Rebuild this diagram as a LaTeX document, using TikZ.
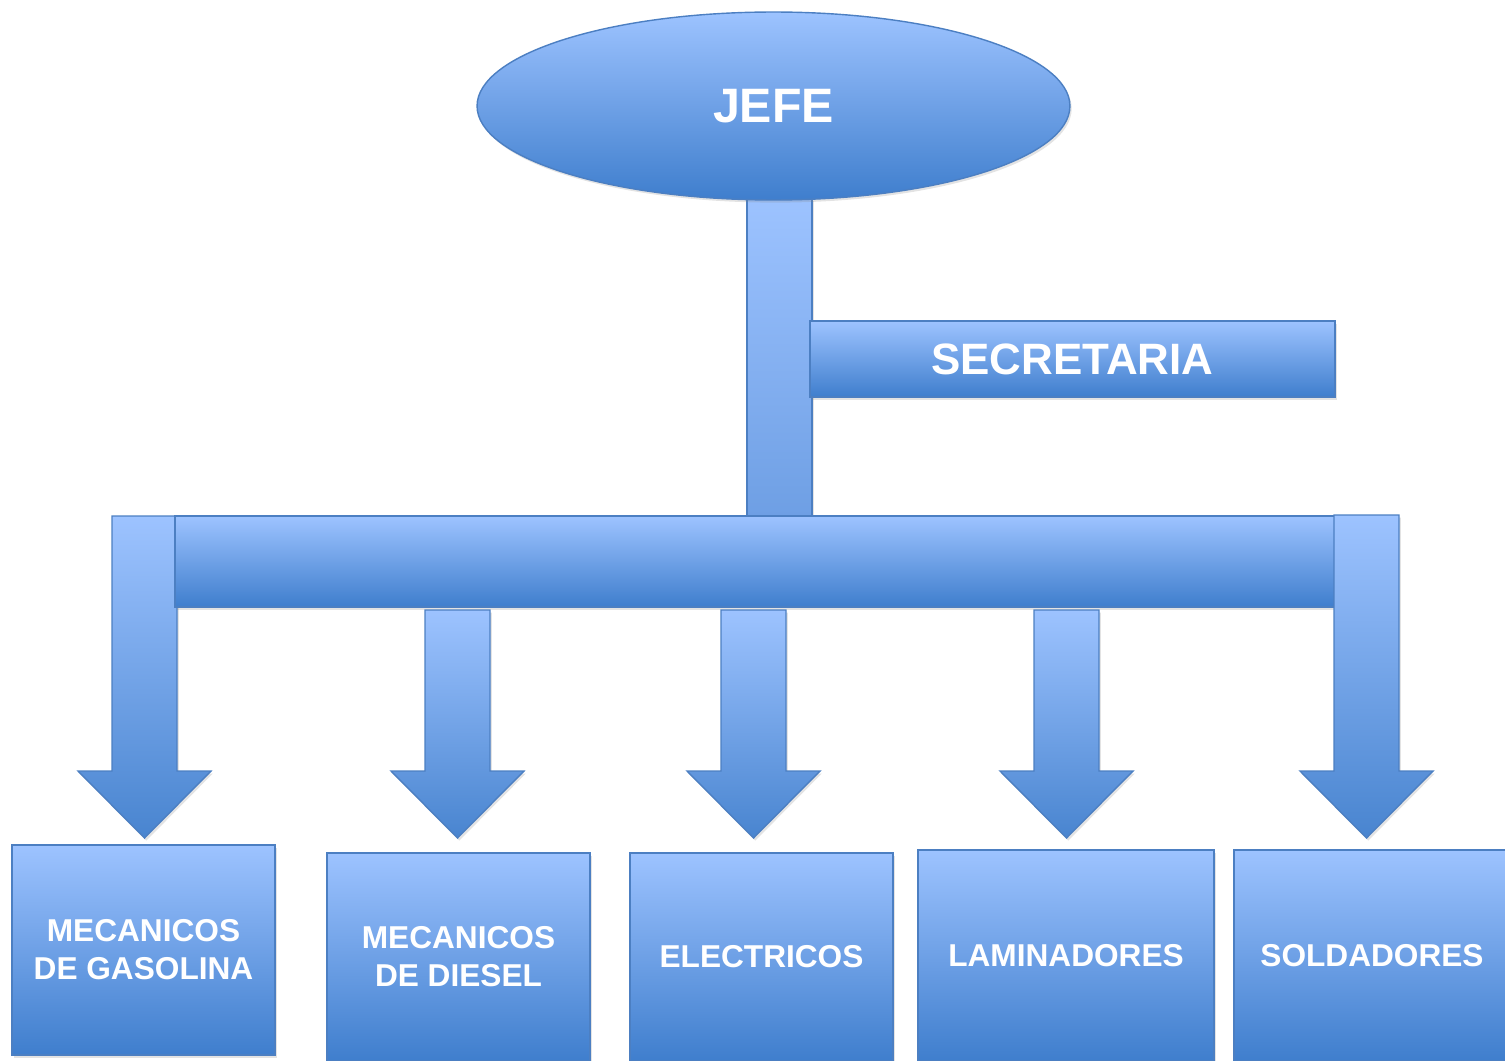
\documentclass[tikz,border=0pt]{standalone}
\usepackage{fontspec}
\setmainfont{Liberation Sans}
\usetikzlibrary{shapes.geometric,shadows}
\definecolor{lightblue}{HTML}{9DC3FF}
\definecolor{deepblue}{HTML}{3F7ECD}
\definecolor{midblue}{HTML}{6E9FE4}
\definecolor{edgeblue}{HTML}{4C7FC2}
\tikzset{shade box/.style={draw=edgeblue,line width=0.8pt,top color=lightblue,bottom color=deepblue,
drop shadow={shadow xshift=1pt,shadow yshift=-1.5pt,opacity=0.22}},
unit/.style={shade box,rectangle,inner sep=0pt,text=white,align=center,
font=\fontsize{18}{21.6}\selectfont\bfseries}}

\begin{document}
\begin{tikzpicture}[x=0.02cm,y=-0.02cm]
	\useasboundingbox (0,0) rectangle (1505,1061);
	% trunk and head
	\node[shade box,bottom color=midblue,minimum width=1.3cm,minimum height=6.36cm,inner sep=0pt] (stem) at (779.5,357) {};
	\node[shade box,ellipse,minimum width=11.86cm,minimum height=3.76cm,inner sep=0pt,text=white,
		font=\fontsize{27.5}{33}\selectfont\bfseries] (jefe) at (773.5,106) {JEFE};
	\node[shade box,minimum width=10.5cm,minimum height=1.52cm,inner sep=0pt,text=white,
		font=\fontsize{25}{30}\selectfont\bfseries] (secretaria) at (1072.5,359) {SECRETARIA};

	% down arrows
	\path[shade box,top color=lightblue,bottom color=deepblue!95!white] (112,516) -- (177,516) -- (177,771) -- (211,771) -- (144.5,838) -- (78,771) -- (112,771) -- cycle;
	\node[shade box,minimum width=23.2cm,minimum height=1.82cm,inner sep=0pt] (bus) at (755,561.5) {};
	\foreach \x/\t in {457.5/610,753.5/610,1066.5/610,1366.5/515}
		\path[shade box,bottom color=deepblue!95!white] (\x-32.5,\t) -- (\x+32.5,\t) -- (\x+32.5,771) -- (\x+66.5,771) -- (\x,838) -- (\x-66.5,771) -- (\x-32.5,771) -- cycle;

	% units
	\node[unit,minimum width=5.26cm,minimum height=4.2cm] (gasolina) at (143.5,950) {MECANICOS\\DE GASOLINA};
	\node[unit,minimum width=5.26cm,minimum height=4.16cm] (diesel) at (458.5,957) {MECANICOS\\DE DIESEL};
	\node[unit,minimum width=5.26cm,minimum height=4.16cm] (electricos) at (761.5,957) {ELECTRICOS};
	\node[unit,minimum width=5.92cm,minimum height=4.22cm] (laminadores) at (1066,955.5) {LAMINADORES};
	\node[unit,minimum width=5.52cm,minimum height=4.22cm] (soldadores) at (1372,955.5) {SOLDADORES};
\end{tikzpicture}
\end{document}
